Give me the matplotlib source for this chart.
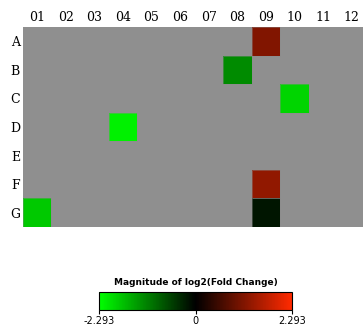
import numpy as np
import matplotlib
matplotlib.use("Agg")
import matplotlib.pyplot as plt
from matplotlib.colors import LinearSegmentedColormap

# plate layout
rows = ["A", "B", "C", "D", "E", "F", "G"]
cols = ["01", "02", "03", "04", "05", "06", "07", "08", "09", "10", "11", "12"]

# wells with a measured log2 fold change (others are blank / grey)
well_ids = ["A09", "B08", "C10", "D04", "F09", "G01", "G09"]
well_vals = [1.15, -1.24, -1.91, -2.16, 1.29, -1.80, -0.18]

vmax = 2.293
bar_ticks = [-2.293, 0, 2.293]
bar_labels = ["-2.293", "0", "2.293"]

grid = np.full((len(rows), len(cols)), np.nan)
for w, v in zip(well_ids, well_vals):
    grid[rows.index(w[0]), cols.index(w[1:])] = v
grid = np.ma.masked_invalid(grid)

cmap = LinearSegmentedColormap.from_list(
    "gbr", [(0.0, "#00ff00"), (0.5, "#000000"), (1.0, "#ff2a00")])
cmap.set_bad("#8f8f8f")

fig = plt.figure(figsize=(3.63, 3.27), dpi=100)
ax = fig.add_axes([22.7 / 363, 1 - 227 / 327, 343.4 / 363, 200 / 327])
ax.pcolormesh(grid, cmap=cmap, vmin=-vmax, vmax=vmax, edgecolors="none")
# faint outline around the measured wells only
for w in well_ids:
    r, c = rows.index(w[0]), cols.index(w[1:])
    ax.add_patch(plt.Rectangle((c, r), 1, 1, fill=False,
                               edgecolor=(0.55, 0.55, 0.55, 0.5), lw=0.6))
ax.set_facecolor("#8f8f8f")
ax.set_xlim(0, len(cols))
ax.set_ylim(len(rows), 0)
ax.xaxis.tick_top()
ax.set_xticks(np.arange(len(cols)) + 0.5)
ax.set_xticklabels(cols, family="DejaVu Serif", fontsize=9)
ax.set_yticks(np.arange(len(rows)) + 0.5)
ax.set_yticklabels(rows, family="DejaVu Serif", fontsize=9)
ax.tick_params(length=0, pad=2)
for s in ax.spines.values():
    s.set_visible(False)

cax = fig.add_axes([99 / 363, 1 - 310 / 327, 193 / 363, 18 / 327])
cb = fig.colorbar(plt.cm.ScalarMappable(cmap=cmap, norm=plt.Normalize(-vmax, vmax)),
                  cax=cax, orientation="horizontal")
cb.set_ticks(bar_ticks)
cb.set_ticklabels(bar_labels)
cb.outline.set_linewidth(0.8)
cax.tick_params(length=3, width=0.8, labelsize=7, pad=1)
cax.set_title("Magnitude of log2(Fold Change)", fontsize=6.5, fontweight="bold", pad=5)

fig.savefig("out.png", dpi=100)
